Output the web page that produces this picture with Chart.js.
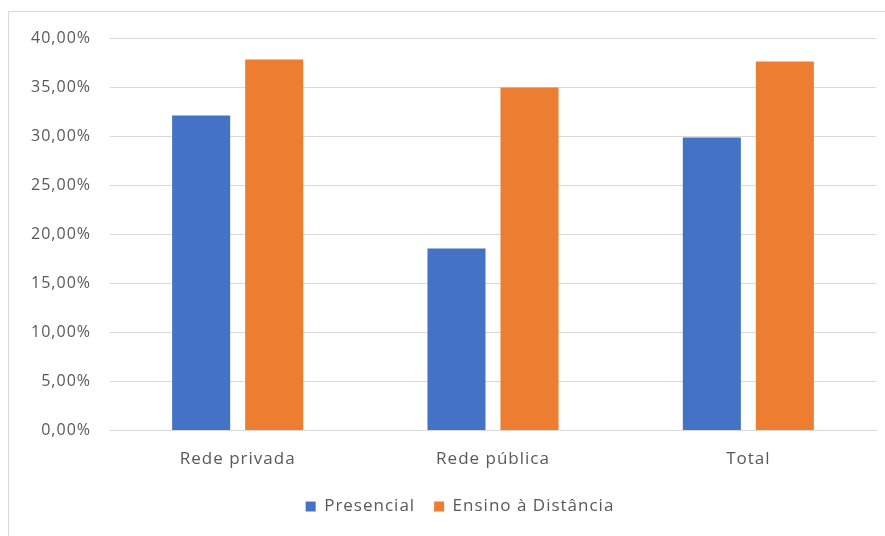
<!DOCTYPE html>
<html>
<head>
<meta charset="utf-8">
<script src="https://cdn.jsdelivr.net/npm/chart.js@4.4.0/dist/chart.umd.min.js"></script>
<style>
  html, body { margin: 0; padding: 0; background: #fff; overflow: hidden; }
  #frame { position: absolute; left: 8px; top: 11px; width: 900px; height: 600px; border: 1px solid #d9d9d9; }
  #wrap { position: absolute; left: 0; top: 0; width: 885px; height: 536px; }
</style>
</head>
<body>
<div id="frame"></div>
<div id="wrap"><canvas id="myChart" width="885" height="536"></canvas></div>
<script>
var categories = ['Rede privada', 'Rede pública', 'Total'];
var presencial = [32.1, 18.55, 29.85];
var distancia = [37.8, 34.95, 37.6];
var seriesNames = ['Presencial', 'Ensino à Distância'];

var textColor = '#595959';
var fontFamily = '"Open Sans", sans-serif';

// a bit of letter spacing, like the original's rendering
// and the legend sits a little right of centre
var tweaks = {
  id: 'tweaks',
  beforeUpdate: function (chart) { chart.ctx.letterSpacing = '1px'; },
  afterLayout: function (chart) { chart.legend.left += 44; },
  beforeDraw: function (chart) { chart.ctx.letterSpacing = '1px'; }
};

var ctx = document.getElementById('myChart');
var myChart = new Chart(ctx, {
  type: 'bar',
  data: {
    labels: categories,
    datasets: [{
      label: seriesNames[0],
      data: presencial,
      backgroundColor: '#4472C4',
      categoryPercentage: 0.572,
      barPercentage: 0.795
    }, {
      label: seriesNames[1],
      data: distancia,
      backgroundColor: '#ED7D31',
      categoryPercentage: 0.572,
      barPercentage: 0.795
    }]
  },
  options: {
    responsive: false,
    maintainAspectRatio: false,
    animation: false,
    layout: { padding: { left: 0, right: 9, top: 38, bottom: 11 } },
    scales: {
      x: {
        grid: { display: false },
        border: { color: '#d9d9d9', width: 1 },
        ticks: { color: textColor, font: { family: fontFamily, size: 17 }, padding: 10 }
      },
      y: {
        min: 0,
        max: 40,
        afterFit: function (s) { s.width = 110; },
        grid: { color: '#d9d9d9', drawTicks: false },
        border: { display: false },
        ticks: {
          stepSize: 5,
          padding: 19,
          color: textColor,
          font: { family: fontFamily, size: 16 },
          callback: function (v) { return v.toFixed(2).replace('.', ',') + '%'; }
        }
      }
    },
    plugins: {
      legend: {
        position: 'bottom',
        labels: {
          boxWidth: 10,
          boxHeight: 10,
          color: textColor,
          font: { family: fontFamily, size: 17 },
          padding: 19
        }
      },
      tooltip: { enabled: false }
    }
  },
  plugins: [tweaks]
});
</script>
</body>
</html>
